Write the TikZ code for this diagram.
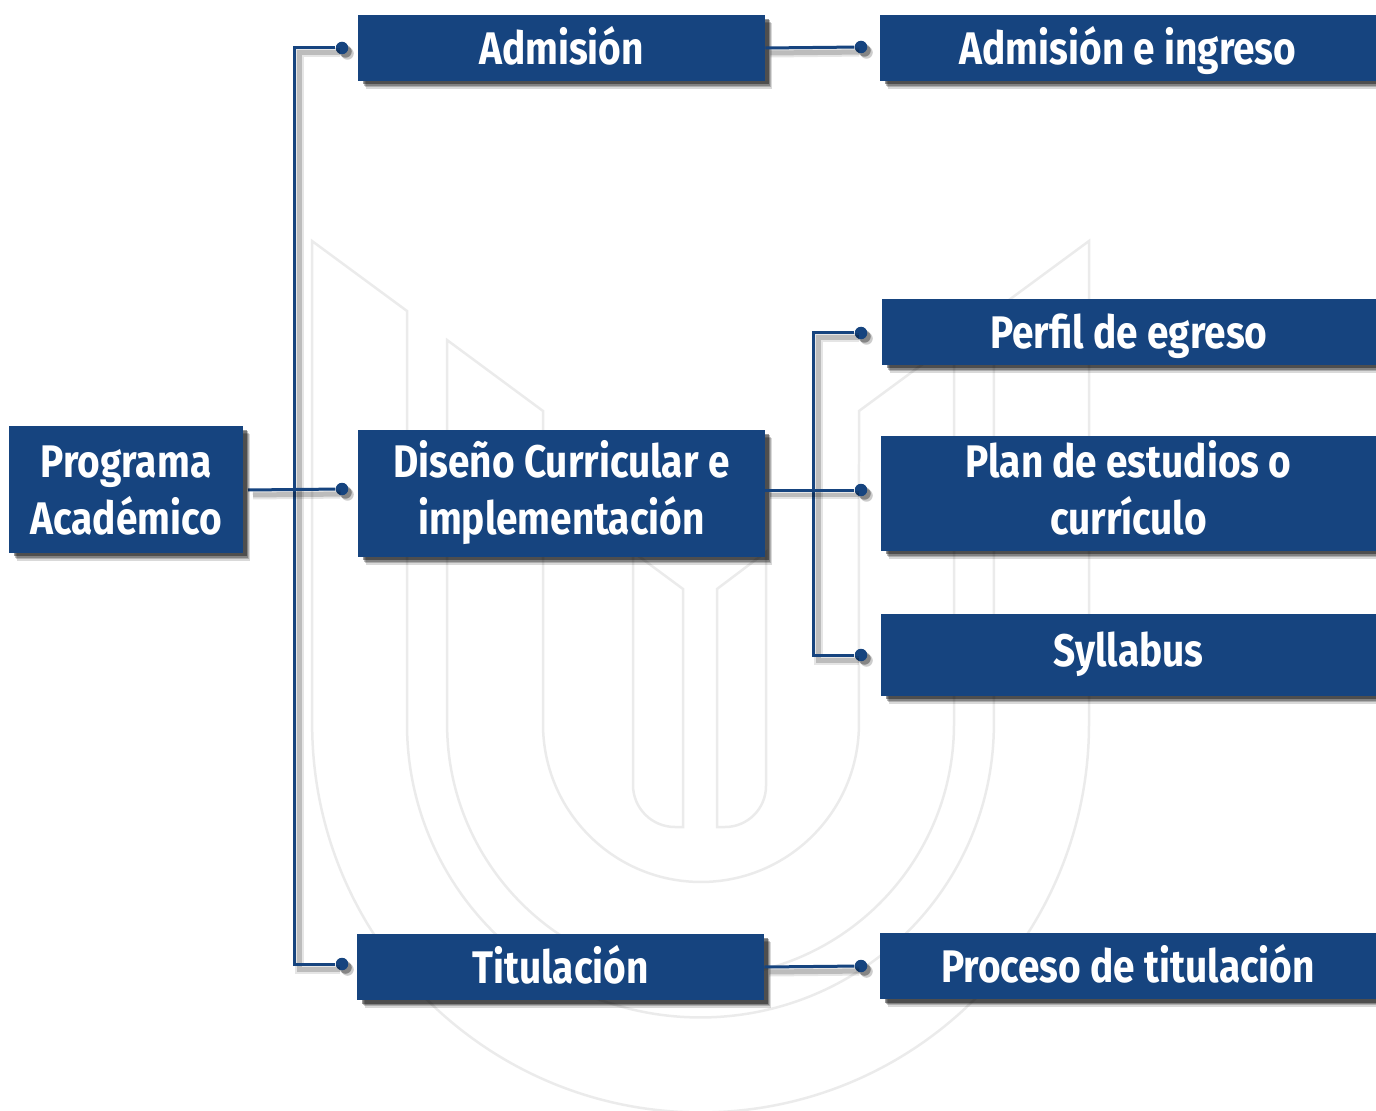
\documentclass[tikz,border=0pt]{standalone}
\usepackage{fontspec}
\usetikzlibrary{shadows}
\newfontfamily\boxfont[FakeStretch=.85]{Fira Sans}
\definecolor{navy}{HTML}{16447F}
\definecolor{mark}{HTML}{EBEBEB}
\newcommand{\boxstrut}{\rule[-2.5pt]{0pt}{25pt}}
\tikzset{
  boxnode/.style={fill=navy,text=white,font=\boxfont\fontsize{26}{32.4}\selectfont\bfseries,align=center,inner sep=0pt,
    execute at begin node=\boxstrut,execute at end node=\boxstrut,
    general shadow={shadow xshift=.15cm,shadow yshift=-.16cm,fill=black,opacity=.15},
    general shadow={shadow xshift=.13cm,shadow yshift=-.13cm,fill=black,opacity=.2},
    general shadow={shadow xshift=.11cm,shadow yshift=-.1cm,fill=black,opacity=.25},
    general shadow={shadow xshift=.09cm,shadow yshift=-.07cm,fill=black,opacity=.4}},
  oneline/.style={boxnode,text height=.88cm,text depth=.23cm,minimum height=1.32cm},
  dotnode/.style={circle,fill=navy,inner sep=0pt,minimum size=.25cm,
    general shadow={shadow xshift=.11cm,shadow yshift=-.11cm,fill=black,opacity=.2},
    general shadow={shadow xshift=.07cm,shadow yshift=-.07cm,fill=black,opacity=.35}},
  link/.style={draw=navy,line width=.6mm,
    preaction={draw=black,opacity=.1,line width=1.8mm,transform canvas={shift={(.1cm,-.1cm)}}},
    preaction={draw=black,opacity=.18,line width=1mm,transform canvas={shift={(.1cm,-.1cm)}}}},
  logo/.style={draw=mark,line width=.5mm}
}
\begin{document}
\begin{tikzpicture}[x=.02cm,y=-.02cm]
  \useasboundingbox (0,0) rectangle (1376,1111);
  \begin{scope}
    \clip (0,0) rectangle (1376,1111);
    \draw[logo] (312,241) -- (407,311) -- (407,724) arc[start angle=180,end angle=360,radius=5.87cm] -- (994,311) -- (1089,241) -- (1089,724) arc[start angle=0,end angle=-180,radius=7.77cm] -- cycle;
    \draw[logo] (447,340) -- (543,411) -- (543,724) arc[start angle=180,end angle=360,radius=3.16cm] -- (859,411) -- (954,341) -- (954,724) arc[start angle=0,end angle=-180,radius=5.07cm] -- cycle;
    \draw[logo] (633,552) -- (683,589) -- (683,827) -- (675,827) arc[start angle=270,end angle=180,radius=.84cm] -- cycle;
    \draw[logo] (766,552) -- (717,589) -- (717,827) -- (725,827) arc[start angle=270,end angle=360,radius=.82cm] -- cycle;
  \end{scope}

  \coordinate (start) at (248,490);
  \coordinate (trunkleft) at (294,490);
  \coordinate (trunkright) at (813,490);

  \node[dotnode] (dotadmision) at (342,48) {};
  \node[dotnode] (dotdiseno) at (342,489) {};
  \node[dotnode] (dottitulacion) at (342,964) {};
  \node[dotnode] (dotingreso) at (861,47) {};
  \node[dotnode] (dotperfil) at (861,333) {};
  \node[dotnode] (dotplan) at (861,490) {};
  \node[dotnode] (dotsyllabus) at (861,655) {};
  \node[dotnode] (dotproceso) at (861,966) {};

  \draw[link] (dotadmision) -- (dotadmision -| trunkleft) -- (dottitulacion -| trunkleft) -- (dottitulacion);
  \draw[link] (start) -- (dotdiseno);
  \draw[link] (dotperfil) -- (dotperfil -| trunkright) -- (dotsyllabus -| trunkright) -- (dotsyllabus);

  \node[boxnode,minimum width=4.68cm,minimum height=2.54cm,text height=1.9cm,text depth=.09cm] (programa) at (126,489.5) {Programa\\Académico};
  \node[oneline,minimum width=8.14cm] (admision) at (561.5,48) {Admisión};
  \node[boxnode,minimum width=8.14cm,minimum height=2.54cm,text depth=.24cm] (diseno) at (561.5,493.5) {Diseño Curricular e\\implementación};
  \node[oneline,minimum width=8.14cm] (titulacion) at (560.5,967) {Titulación};
  \node[oneline,minimum width=9.92cm] (ingreso) at (1128,48) {Admisión e ingreso};
  \node[oneline,minimum width=9.88cm] (perfil) at (1129,332) {Perfil de egreso};
  \node[boxnode,minimum width=9.9cm,minimum height=2.3cm,text depth=.24cm] (plan) at (1128.5,493.5) {Plan de estudios o\\currículo};
  \node[oneline,minimum width=9.9cm,minimum height=1.64cm,text depth=.43cm] (syllabus) at (1128.5,655) {Syllabus};
  \node[oneline,minimum width=9.92cm] (proceso) at (1128,966) {Proceso de titulación};

  \draw[link] (admision.east) -- (dotingreso);
  \draw[link] (diseno.east |- dotplan) -- (dotplan);
  \draw[link] (titulacion.east) -- (dotproceso);
\end{tikzpicture}
\end{document}
